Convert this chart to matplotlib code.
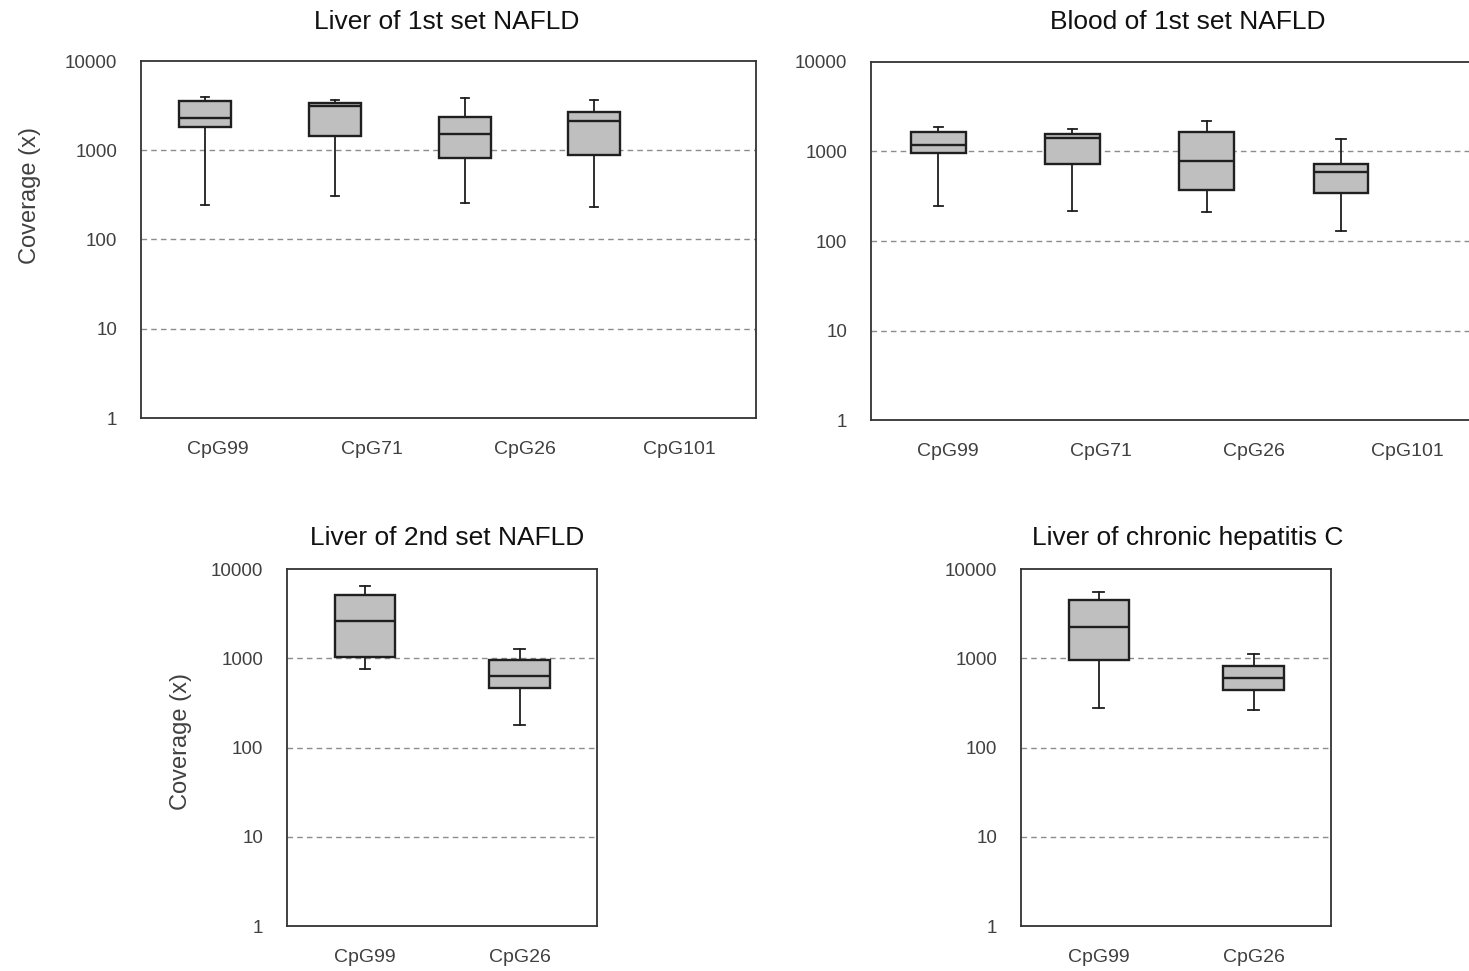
import matplotlib
matplotlib.use("Agg")
import matplotlib.pyplot as plt

plt.rcParams['font.family'] = ['Liberation Sans', 'DejaVu Sans']

# coverage summaries per CpG site: whisker low, Q1, median, Q3, whisker high
liver1_sites = ['CpG99', 'CpG71', 'CpG26', 'CpG101']
liver1_low = [243, 310, 254, 233]
liver1_q1 = [1800, 1426, 820, 894]
liver1_med = [2305, 3146, 1540, 2117]
liver1_q3 = [3525, 3400, 2366, 2654]
liver1_high = [3945, 3673, 3810, 3673]

blood1_sites = ['CpG99', 'CpG71', 'CpG26', 'CpG101']
blood1_low = [244, 217, 209, 131]
blood1_q1 = [957, 727, 376, 348]
blood1_med = [1167, 1419, 793, 597]
blood1_q3 = [1644, 1574, 1644, 727]
blood1_high = [1871, 1790, 2183, 1362]

liver2_sites = ['CpG99', 'CpG26']
liver2_low = [760, 181]
liver2_q1 = [1035, 459]
liver2_med = [2630, 630]
liver2_q3 = [5130, 966]
liver2_high = [6516, 1259]

hcv_sites = ['CpG99', 'CpG26']
hcv_low = [277, 265]
hcv_q1 = [966, 440]
hcv_med = [2218, 603]
hcv_q3 = [4550, 821]
hcv_high = [5546, 1117]

W, H = 1469, 971
fig = plt.figure(figsize=(W / 100, H / 100), dpi=100)

tick_color = '#404040'
edge = '#1f1f1f'


def px_axes(left, top, right, bottom):
    return fig.add_axes([left / W, (H - bottom) / H, (right - left) / W, (bottom - top) / H])


def draw_panel(ax, sites, low, q1, med, q3, high, positions, width, capw):
    stats = []
    for i in range(len(sites)):
        stats.append(dict(whislo=low[i], q1=q1[i], med=med[i], q3=q3[i],
                          whishi=high[i], fliers=[]))
    ax.bxp(stats, positions=positions, widths=width, capwidths=capw,
           patch_artist=True, showfliers=False, manage_ticks=False,
           boxprops=dict(facecolor='#bfbfbf', edgecolor=edge, linewidth=1.7),
           medianprops=dict(color=edge, linewidth=1.7),
           whiskerprops=dict(color=edge, linewidth=1.3),
           capprops=dict(color=edge, linewidth=1.3), zorder=3)
    ax.set_yscale('log')
    ax.set_ylim(1, 10000)
    ax.set_xlim(0, len(sites))
    ax.set_yticks([1, 10, 100, 1000, 10000])
    ax.set_yticklabels(['1', '10', '100', '1000', '10000'])
    ax.yaxis.set_minor_locator(matplotlib.ticker.NullLocator())
    ax.set_xticks([i + 0.5 for i in range(len(sites))])
    ax.set_xticklabels(sites)
    ax.tick_params(axis='y', length=0, pad=17, labelsize=13.5, labelcolor=tick_color)
    ax.tick_params(axis='x', length=0, pad=16.5, labelsize=14, labelcolor=tick_color)
    for v in [10, 100, 1000]:
        ax.axhline(v, color='#8c8c8c', linewidth=1.0, linestyle=(0, (4, 3)), zorder=1)
    for s in ax.spines.values():
        s.set_color('#333333')
        s.set_linewidth(1.3)


ax1 = px_axes(141, 61, 756, 418)
draw_panel(ax1, liver1_sites, liver1_low, liver1_q1, liver1_med, liver1_q3, liver1_high,
           [0.416, 1.262, 2.107, 2.946], 0.338, 0.055)

ax2 = px_axes(871, 62, 1484, 420)
draw_panel(ax2, blood1_sites, blood1_low, blood1_q1, blood1_med, blood1_q3, blood1_high,
           [0.439, 1.314, 2.191, 3.067], 0.357, 0.06)

ax3 = px_axes(287, 569, 597, 926)
draw_panel(ax3, liver2_sites, liver2_low, liver2_q1, liver2_med, liver2_q3, liver2_high,
           [0.503, 1.501], 0.39, 0.07)

ax4 = px_axes(1021, 569, 1331, 926)
draw_panel(ax4, hcv_sites, hcv_low, hcv_q1, hcv_med, hcv_q3, hcv_high,
           [0.502, 1.50], 0.39, 0.07)

# titles
title_kw = dict(fontsize=19, color='#111111', ha='center', va='baseline')
fig.text(447 / W, 1 - 29 / H, 'Liver of 1st set NAFLD', **title_kw)
fig.text(1188 / W, 1 - 29 / H, 'Blood of 1st set NAFLD', **title_kw)
fig.text(447 / W, 1 - 545 / H, 'Liver of 2nd set NAFLD', **title_kw)
fig.text(1188 / W, 1 - 545 / H, 'Liver of chronic hepatitis C', **title_kw)

# y labels
ylab_kw = dict(fontsize=17, color=tick_color, ha='center', va='center', rotation=90)
fig.text(30 / W, 1 - 196 / H, 'Coverage (x)', **ylab_kw)
fig.text(181 / W, 1 - 741 / H, 'Coverage (x)', **ylab_kw)

fig.savefig('out.png', dpi=100)
